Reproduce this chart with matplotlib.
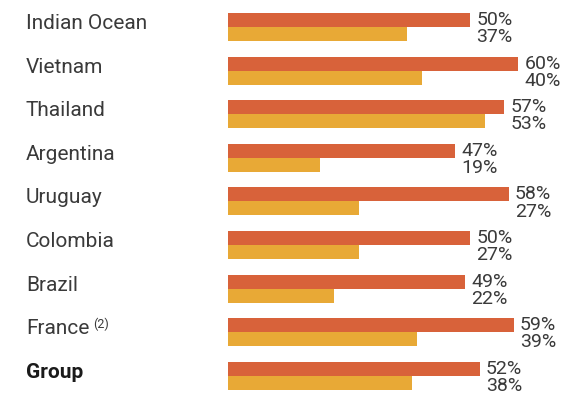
import matplotlib.pyplot as plt
from matplotlib.transforms import blended_transform_factory

plt.rcParams['font.family'] = ['Roboto', 'DejaVu Sans']

countries = ['Indian Ocean', 'Vietnam', 'Thailand', 'Argentina', 'Uruguay',
             'Colombia', 'Brazil', 'France', 'Group']
share_top = [50, 60, 57, 47, 58, 50, 49, 59, 52]
share_bottom = [37, 40, 53, 19, 27, 27, 22, 39, 38]

red = '#d8623a'
yellow = '#e8a936'
grey = '#3a3a3a'

fig = plt.figure(figsize=(5.61, 3.94), dpi=100)
ax = fig.add_axes([228 / 561, 0, 333 / 561, 1])
ax.set_xlim(0, 68.8)
ax.set_ylim(8.417, -0.619)
ax.axis('off')

h = 0.32
rows = list(range(len(countries)))
ax.barh([r - h / 2 for r in rows], share_top, height=h, color=red, linewidth=0)
ax.barh([r + h / 2 for r in rows], share_bottom, height=h, color=yellow, linewidth=0)

lab_tr = blended_transform_factory(fig.transFigure, ax.transData)
for r, name in zip(rows, countries):
    bold = name == 'Group'
    t = ax.text(26 / 561, r - 0.08, name, transform=lab_tr, ha='left', va='center',
                fontsize=15, color='#1a1a1a' if bold else grey,
                fontweight='bold' if bold else 'normal')
    if name == 'France':
        # footnote marker, raised like a superscript
        ax.annotate('(2)', xy=(1, 1), xycoords=t, xytext=(3, 1),
                    textcoords='offset points', ha='left', va='top',
                    fontsize=9, color=grey)

for r, a, b in zip(rows, share_top, share_bottom):
    x = a + 1.3
    ax.text(x, r - 0.16, f'{a}%', ha='left', va='center', fontsize=14, color=grey)
    ax.text(x, r + 0.235, f'{b}%', ha='left', va='center', fontsize=14, color=grey)

fig.savefig('out.png', dpi=100)
